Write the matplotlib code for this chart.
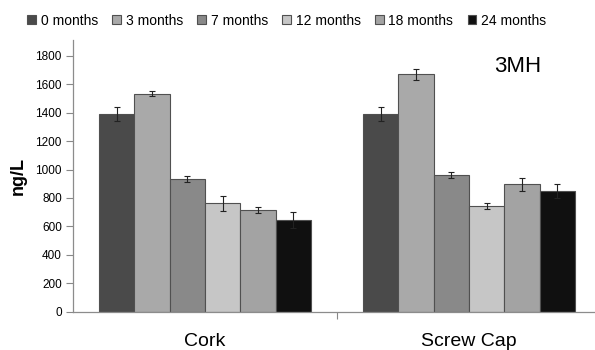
import numpy as np
import matplotlib.pyplot as plt

plt.rcParams['font.family'] = ['Liberation Sans', 'DejaVu Sans']

closures = ['Cork', 'Screw Cap']
ages = ['0 months', '3 months', '7 months', '12 months', '18 months', '24 months']
colors = ['#4a4a4a', '#a9a9a9', '#898989', '#c6c6c6', '#a3a3a3', '#101010']

# mean 3MH (ng/L) per closure, one list per storage time
mh_0 = [1388, 1388]
mh_3 = [1533, 1669]
mh_7 = [931, 959]
mh_12 = [762, 743]
mh_18 = [717, 896]
mh_24 = [647, 851]

err_0 = [49, 49]
err_3 = [19, 40]
err_7 = [20, 21]
err_12 = [52, 23]
err_18 = [21, 45]
err_24 = [56, 48]

means = [mh_0, mh_3, mh_7, mh_12, mh_18, mh_24]
errs = [err_0, err_3, err_7, err_12, err_18, err_24]

fig = plt.figure(figsize=(5.95, 3.5), dpi=100)
ax = fig.add_axes([0.1227, 0.1094, 0.8874, 0.776])

x = np.arange(len(closures))
w = 0.134
for i, (m, e) in enumerate(zip(means, errs)):
    pos = x - 3 * w + w / 2 + i * w
    ax.bar(pos, m, width=w, color=colors[i], edgecolor='#505050', linewidth=0.8,
           label=ages[i], zorder=2)
    ax.errorbar(pos, m, yerr=e, fmt='none', ecolor='#222222', elinewidth=0.8,
                capsize=2.2, capthick=0.8, zorder=3)

ax.set_xlim(-0.5, 1.5)
ax.set_ylim(0, 1910)
ax.set_yticks(range(0, 1801, 200))
ax.set_xticks(x)
ax.set_xticklabels(closures, fontsize=14)
ax.set_xticks([0.5], minor=True)
ax.tick_params(axis='x', which='major', length=0, pad=15.5)
ax.tick_params(axis='x', which='minor', length=5, color='#888888', width=0.8)
ax.tick_params(axis='y', length=5, color='#888888', width=0.8, labelsize=8.5, pad=3)

for side in ['top', 'right']:
    ax.spines[side].set_visible(False)
for side in ['left', 'bottom']:
    ax.spines[side].set_color('#8c8c8c')
    ax.spines[side].set_linewidth(0.9)

ax.set_ylabel('ng/L', fontsize=13, fontweight='bold', labelpad=6)
fig.text(518 / 595, 1 - 66 / 350, '3MH', fontsize=16, ha='center', va='center')

fig.legend(loc='center', bbox_to_anchor=(0.482, 1 - 20.7 / 350), ncol=6,
           frameon=False, fontsize=10, handlelength=0.6, handleheight=0.6,
           handletextpad=0.35, columnspacing=1.05, borderaxespad=0)

fig.savefig('out.png', dpi=100)
